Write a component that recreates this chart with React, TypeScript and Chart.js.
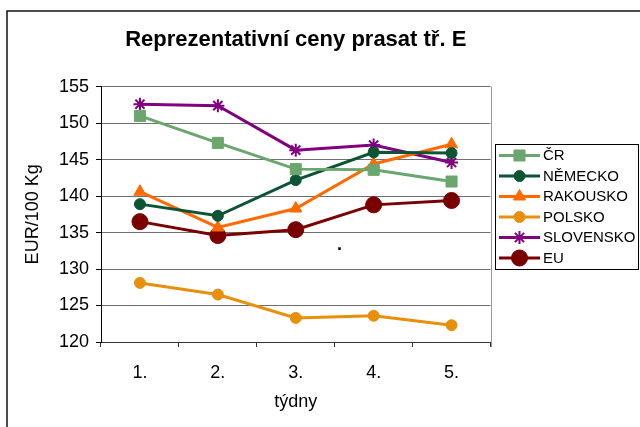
import React, { useEffect, useRef } from 'react';
import { Chart, registerables } from 'chart.js';
import { drawPoint } from 'chart.js/helpers';

Chart.register(...registerables);

const categories = ['1.', '2.', '3.', '4.', '5.'];
const crValues = [151.0, 147.3, 143.7, 143.6, 142.0];
const nemeckoValues = [138.9, 137.3, 142.2, 146.0, 145.9];
const rakouskoValues = [140.6, 135.7, 138.3, 144.4, 147.1];
const polskoValues = [128.1, 126.5, 123.3, 123.6, 122.3];
const slovenskoValues = [152.6, 152.4, 146.3, 147.0, 144.6];
const euValues = [136.5, 134.6, 135.4, 138.8, 139.4];
const seriesNames = ['ČR', 'NĚMECKO', 'RAKOUSKO', 'POLSKO', 'SLOVENSKO', 'EU'];
const yMin = 120;
const yMax = 155;
const yStep = 5;
const titleText = 'Reprezentativní ceny prasat tř. E';
const yTitle = 'EUR/100 Kg';
const xTitle = 'týdny';

const FONT = "'Liberation Sans', Arial, sans-serif";

const styles = [
  { color: '#6aa66e', pointStyle: 'rect', radius: 7.8 },
  { color: '#0b5434', pointStyle: 'circle', radius: 5.5 },
  { color: '#ff6a00', pointStyle: 'triangle', radius: 7 },
  { color: '#e8900c', pointStyle: 'circle', radius: 5.5 },
  { color: '#800080', pointStyle: 'star', radius: 6.5 },
  { color: '#7a0000', pointStyle: 'circle', radius: 8 },
];

const frameAndLegend = {
  id: 'frameAndLegend',
  beforeDraw(chart: any) {
    const ctx = chart.ctx;
    ctx.save();
    ctx.fillStyle = '#fff';
    ctx.fillRect(0, 0, chart.width, chart.height);
    ctx.strokeStyle = '#111';
    ctx.lineWidth = 1.5;
    ctx.beginPath();
    ctx.moveTo(7, chart.height);
    ctx.lineTo(7, 11);
    ctx.lineTo(chart.width, 11);
    ctx.stroke();
    ctx.restore();
  },
  afterDraw(chart: any) {
    const ctx = chart.ctx;
    const a = chart.chartArea;
    ctx.save();
    // plot area right border
    ctx.strokeStyle = '#999';
    ctx.lineWidth = 1;
    ctx.beginPath();
    ctx.moveTo(Math.round(a.right) + 0.5, a.top);
    ctx.lineTo(Math.round(a.right) + 0.5, a.bottom + 5);
    ctx.stroke();
    // stray period in the plot
    ctx.fillStyle = '#000';
    ctx.font = `bold 18px ${FONT}`;
    ctx.textBaseline = 'alphabetic';
    ctx.textAlign = 'left';
    ctx.fillText('.', 337, 249.5);
    // legend
    const lx = 495.5, ly = 144.5, lw = 143, lh = 125;
    ctx.strokeStyle = '#000';
    ctx.lineWidth = 1;
    ctx.strokeRect(lx, ly, lw, lh);
    ctx.font = `15px ${FONT}`;
    ctx.textBaseline = 'middle';
    chart.data.datasets.forEach((ds: any, i: number) => {
      const y = 155.5 + i * 20.5;
      const st = styles[i];
      ctx.strokeStyle = st.color;
      ctx.fillStyle = st.color;
      ctx.lineWidth = 3;
      ctx.beginPath();
      ctx.moveTo(499, y);
      ctx.lineTo(540, y);
      ctx.stroke();
      ctx.lineWidth = st.pointStyle === 'star' ? 2 : 1;
      drawPoint(ctx, { pointStyle: st.pointStyle, radius: st.radius, rotation: 0, borderWidth: ctx.lineWidth }, 519.5, y);
      ctx.fillStyle = '#000';
      ctx.fillText(ds.label, 543, y + 0.5);
    });
    ctx.restore();
  },
};

export default function App() {
  const ref = useRef<HTMLCanvasElement>(null);
  useEffect(() => {
    if (!ref.current) return;
    Chart.defaults.font.family = FONT;
    const values = [crValues, nemeckoValues, rakouskoValues, polskoValues, slovenskoValues, euValues];
    const chart = new Chart(ref.current, {
      type: 'line',
      data: {
        labels: categories,
        datasets: values.map((v, i) => ({
          label: seriesNames[i],
          data: v,
          borderColor: styles[i].color,
          backgroundColor: styles[i].color,
          pointBackgroundColor: styles[i].color,
          pointBorderColor: styles[i].color,
          pointStyle: styles[i].pointStyle as any,
          pointRadius: styles[i].radius,
          pointBorderWidth: styles[i].pointStyle === 'star' ? 2 : 1,
          borderWidth: 3,
          tension: 0,
          fill: false,
        })),
      },
      options: {
        responsive: false,
        animation: false,
        events: [],
        layout: { padding: { left: 0, top: 0, right: 149.5, bottom: 0 } },
        plugins: {
          legend: { display: false },
          tooltip: { enabled: false },
          title: {
            display: true,
            text: titleText,
            fullSize: false,
            color: '#000',
            font: { size: 22, weight: 'bold', family: FONT },
            padding: { top: 27, bottom: 33.3 },
          },
        },
        scales: {
          x: {
            type: 'category',
            offset: true,
            grid: {
              offset: true,
              drawOnChartArea: false,
              drawTicks: true,
              tickLength: 5,
              color: '#333',
              tickColor: '#333',
            },
            border: { color: '#333', width: 1 },
            ticks: { color: '#000', font: { size: 18 }, padding: 15, maxRotation: 0 },
            title: { display: true, text: xTitle, color: '#000', font: { size: 18 }, padding: { top: 0, bottom: 14 } },
            afterFit: (s: any) => { s.height = 85; },
          },
          y: {
            min: yMin,
            max: yMax,
            ticks: { stepSize: yStep, color: '#000', font: { size: 18 }, padding: 7 },
            grid: { color: '#6f6f6f', tickColor: '#000', tickLength: 5, drawTicks: true },
            border: { color: '#000', width: 1 },
            title: { display: true, text: yTitle, color: '#000', font: { size: 18 }, padding: { top: 22, bottom: 0 } },
            afterFit: (s: any) => { s.width = 101; },
          },
        },
      },
      plugins: [frameAndLegend],
    });
    return () => chart.destroy();
  }, []);
  return (
    <div style={{ position: 'fixed', left: 0, top: 0, width: 640, height: 427, background: '#fff' }}>
      <canvas ref={ref} width={640} height={427} style={{ display: 'block' }} />
    </div>
  );
}
